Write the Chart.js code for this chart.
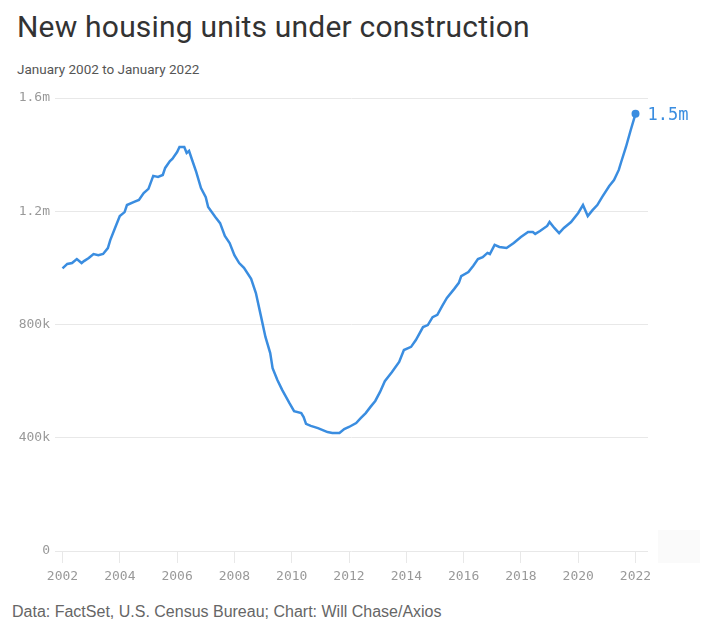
<!DOCTYPE html>
<html>
<head>
<meta charset="utf-8">
<script src="https://cdn.jsdelivr.net/npm/chart.js@4.4.1/dist/chart.umd.min.js"></script>
<style>
    html, body { margin: 0; padding: 0; background: #fff; }
    body { width: 717px; height: 640px; position: relative; overflow: hidden; }
    .title {
        position: absolute; left: 17px; top: 9px;
        font-family: Roboto, sans-serif; font-size: 30px; color: #333;
        letter-spacing: 0.2px; white-space: nowrap;
    }
    .subtitle {
        position: absolute; left: 17px; top: 61px;
        font-family: Roboto, sans-serif; font-size: 13.5px; color: #555;
        white-space: nowrap;
    }
    .footer {
        position: absolute; left: 12px; top: 603px;
        font-family: "Liberation Sans", Arial, sans-serif; font-size: 16px; color: #666;
        white-space: nowrap;
    }
    .chart-wrap { position: absolute; left: 0; top: 80px; width: 717px; height: 520px; }
    .corner-box { position: absolute; left: 658px; top: 530px; width: 42px; height: 33px; background: #fafafa; }
</style>
</head>
<body>
<div class="title">New housing units under construction</div>
<div class="subtitle">January 2002 to January 2022</div>
<div class="chart-wrap"><canvas id="housingChart"></canvas></div>
<div class="corner-box"></div>
<div class="footer">Data: FactSet, U.S. Census Bureau; Chart: Will Chase/Axios</div>

<script>
// Thousands of units
const months = [
    '2002-01', '2002-03', '2002-05', '2002-07', '2002-09', '2002-10', '2002-12',
    '2003-02', '2003-04', '2003-06', '2003-08', '2003-09', '2003-11',
    '2004-01', '2004-03', '2004-04', '2004-07', '2004-09', '2004-11',
    '2005-01', '2005-03', '2005-05', '2005-07', '2005-08', '2005-10', '2005-11',
    '2006-01', '2006-02', '2006-04', '2006-05', '2006-06', '2006-07', '2006-09', '2006-11',
    '2007-01', '2007-02', '2007-05', '2007-07', '2007-09', '2007-11',
    '2008-01', '2008-03', '2008-05', '2008-08', '2008-10', '2008-12',
    '2009-02', '2009-04', '2009-05', '2009-07', '2009-09', '2009-12',
    '2010-02', '2010-05', '2010-06', '2010-07', '2010-09', '2010-12',
    '2011-02', '2011-04', '2011-06', '2011-09', '2011-11',
    '2012-01', '2012-04', '2012-06', '2012-08', '2012-10', '2012-12',
    '2013-02', '2013-04', '2013-07', '2013-10', '2013-12',
    '2014-03', '2014-05', '2014-08', '2014-10', '2014-12',
    '2015-02', '2015-04', '2015-06', '2015-09', '2015-11', '2015-12',
    '2016-03', '2016-05', '2016-07', '2016-09', '2016-11', '2016-12',
    '2017-02', '2017-04', '2017-07', '2017-10',
    '2018-01', '2018-04', '2018-06', '2018-07', '2018-09', '2018-12',
    '2019-01', '2019-03', '2019-05', '2019-07', '2019-08', '2019-10',
    '2020-01', '2020-03', '2020-05', '2020-07', '2020-09', '2020-11',
    '2021-02', '2021-04', '2021-06', '2021-07', '2021-09', '2021-11',
    '2022-01'
];
const unitsK = [
    998, 1014, 1017, 1031, 1017, 1024, 1035,
    1049, 1045, 1049, 1070, 1098, 1141,
    1183, 1197, 1222, 1233, 1240, 1264,
    1279, 1325, 1321, 1328, 1353, 1377, 1385,
    1409, 1427, 1427, 1406, 1413, 1388, 1339, 1282,
    1250, 1215, 1180, 1158, 1113, 1088,
    1045, 1017, 1000, 961, 911, 834,
    756, 699, 646, 604, 569, 523,
    494, 487, 473, 449, 442, 434,
    427, 420, 417, 417, 431,
    438, 452, 470, 487, 509, 530,
    562, 600, 632, 668, 710,
    721, 745, 791, 798, 826,
    834, 865, 894, 925, 947, 971,
    985, 1007, 1031, 1038, 1053, 1049,
    1081, 1074, 1070, 1088,
    1109, 1127, 1127, 1120, 1130, 1148,
    1162, 1141, 1123, 1141, 1148, 1162,
    1194, 1222, 1183, 1204, 1222, 1250,
    1289, 1310, 1346, 1374, 1427, 1487,
    1544
];
const xTickYears = [2002, 2004, 2006, 2008, 2010, 2012, 2014, 2016, 2018, 2020, 2022];
const yTickValues = [0, 400, 800, 1200, 1600];
const yTickLabels = ['0', '400k', '800k', '1.2m', '1.6m'];

const lineColor = '#3a8de0';
const gridColor = '#e8e8e8';
const monoFont = "'DejaVu Sans Mono', 'Liberation Mono', monospace";

function monthToYear(m) {
    const parts = m.split('-');
    return parseInt(parts[0]) + (parseInt(parts[1]) - 1) / 12;
}

const points = months.map((m, i) => ({ x: monthToYear(m), y: unitsK[i] }));
const lastIndex = points.length - 1;

// Label next to the last point
const endLabelPlugin = {
    id: 'endLabel',
    afterDatasetsDraw(chart) {
        const meta = chart.getDatasetMeta(0);
        const pt = meta.data[lastIndex];
        if (!pt) return;
        const ctx = chart.ctx;
        ctx.save();
        ctx.font = '17px ' + monoFont;
        ctx.fillStyle = lineColor;
        ctx.textAlign = 'left';
        ctx.textBaseline = 'middle';
        ctx.fillText((unitsK[lastIndex] / 1000).toFixed(1) + 'm', pt.x + 12, pt.y + 2);
        ctx.restore();
    }
};

new Chart(document.getElementById('housingChart'), {
    type: 'line',
    data: {
        datasets: [{
            data: points,
            borderColor: lineColor,
            backgroundColor: lineColor,
            borderWidth: 2.5,
            tension: 0,
            pointRadius: ctx => ctx.dataIndex === lastIndex ? 4 : 0,
            pointHoverRadius: 0,
            pointBackgroundColor: lineColor,
            pointBorderWidth: 0,
            clip: false
        }]
    },
    options: {
        responsive: true,
        maintainAspectRatio: false,
        animation: false,
        layout: { padding: { left: 0, right: 69, top: 18, bottom: 0 } },
        plugins: {
            legend: { display: false },
            tooltip: { enabled: false }
        },
        scales: {
            x: {
                type: 'linear',
                min: 2001.738,
                max: 2022.436,
                afterBuildTicks: scale => { scale.ticks = xTickYears.map(v => ({ value: v })); },
                afterFit: scale => { scale.height = 49; },
                grid: {
                    drawOnChartArea: false,
                    drawTicks: true,
                    tickLength: 12,
                    color: gridColor
                },
                border: { display: false },
                ticks: {
                    autoSkip: false,
                    maxRotation: 0,
                    padding: 6,
                    color: '#999',
                    font: { family: monoFont, size: 13 },
                    callback: v => String(v)
                }
            },
            y: {
                min: 0,
                max: 1600,
                afterBuildTicks: scale => { scale.ticks = yTickValues.map(v => ({ value: v })); },
                afterFit: scale => { scale.width = 55; },
                grid: {
                    drawTicks: false,
                    color: gridColor
                },
                border: { display: false },
                ticks: {
                    padding: 5,
                    color: '#999',
                    font: { family: monoFont, size: 13 },
                    callback: v => yTickLabels[yTickValues.indexOf(v)]
                }
            }
        }
    },
    plugins: [endLabelPlugin]
});
</script>
</body>
</html>
